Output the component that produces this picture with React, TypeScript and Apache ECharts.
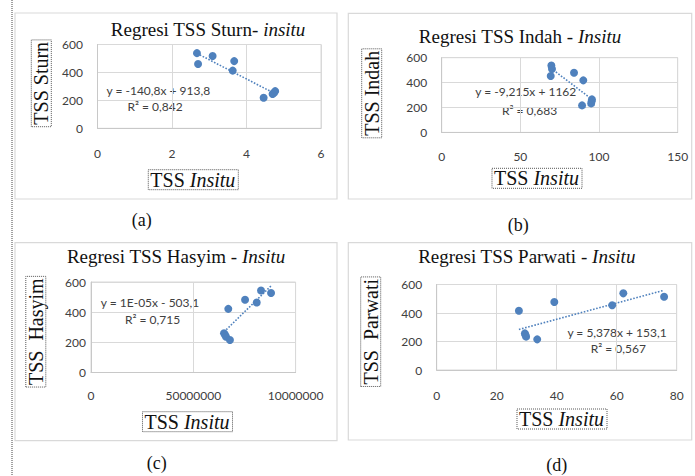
import React, { useEffect, useRef } from "react";
import * as echarts from "echarts";

// ---- data ----
const xSturn = [2.67, 3.09, 3.67, 2.7, 3.63, 4.77, 4.74, 4.7, 4.46];
const ySturn = [538, 518, 481, 460, 413, 266, 255, 245, 219];

const xIndah = [69.7, 70.1, 84.1, 69.3, 90.0, 95.5, 95.3, 95.0, 89.2];
const yIndah = [538, 509, 479, 453, 418, 265, 250, 233, 217];

const xHasyim = [83.1e6, 88.0e6, 75.3e6, 81.0e6, 67.1e6, 65.0e6, 65.5e6, 66.0e6, 67.9e6];
const yHasyim = [544, 527, 482, 464, 422, 260, 250, 237, 215];

const xParwati = [62.2, 75.8, 39.2, 58.5, 27.4, 29.4, 29.6, 29.8, 33.5];
const yParwati = [538, 514, 477, 454, 416, 257, 245, 234, 215];

const xTicksA = ["0", "2", "4", "6"];
const xTicksB = ["0", "50", "100", "150"];
const xTicksC = ["0", "50000000", "10000000"];
const xTicksD = ["0", "20", "40", "60", "80"];
const yTicks = ["0", "200", "400", "600"];

const titles = [
  "Regresi TSS Sturn- {i|insitu}",
  "Regresi TSS Indah - {i|Insitu}",
  "Regresi TSS Hasyim - {i|Insitu}",
  "Regresi TSS Parwati - {i|Insitu}",
];
const yNames = ["TSS Sturn", "TSS Indah", "TSS  Hasyim", "TSS  Parwati"];
const xName = "TSS {i|Insitu}";
const equations = ["y = -140,8x + 913,8", "y = -9,215x + 1162", "y = 1E-05x - 503,1", "y = 5,378x + 153,1"];
const r2Texts = ["R² = 0,842", "R² = 0,683", "R² = 0,715", "R² = 0,567"];
const captions = ["(a)", "(b)", "(c)", "(d)"];

const BLUE = "#4F81BD";
const SERIF = '"Liberation Serif", "Times New Roman", serif';
const SANS = 'Lato, "Open Sans", sans-serif';

function fitLine(xs: number[], ys: number[]) {
  const n = xs.length;
  const mx = xs.reduce((a, b) => a + b, 0) / n;
  const my = ys.reduce((a, b) => a + b, 0) / n;
  let sxy = 0, sxx = 0;
  for (let i = 0; i < n; i++) {
    sxy += (xs[i] - mx) * (ys[i] - my);
    sxx += (xs[i] - mx) * (xs[i] - mx);
  }
  const b = sxy / sxx;
  const a = my - b * mx;
  const x0 = Math.min(...xs);
  const x1 = Math.max(...xs);
  return [[x0, a + b * x0], [x1, a + b * x1]];
}

export default function App() {
  const ref = useRef<HTMLDivElement>(null);
  useEffect(() => {
    if (!ref.current) return;
    const chart = echarts.init(ref.current, null, { renderer: "svg" });

    const panels = [
      { xs: xSturn, ys: ySturn, max: 6, interval: 2, ticks: xTicksA,
        grid: { left: 97.5, top: 44.5, width: 223.5, height: 83.8 }, xm: 19.5, ym: 14.5 },
      { xs: xIndah, ys: yIndah, max: 150, interval: 50, ticks: xTicksB,
        grid: { left: 441.7, top: 57.7, width: 236, height: 74.7 }, xm: 18.5, ym: 14.5 },
      { xs: xHasyim, ys: yHasyim, max: 100000000, interval: 50000000, ticks: xTicksC,
        grid: { left: 91, top: 282, width: 204.6, height: 90.5 }, xm: 17, ym: 5 },
      { xs: xParwati, ys: yParwati, max: 80, interval: 20, ticks: xTicksD,
        grid: { left: 436.7, top: 284.5, width: 240, height: 85.5 }, xm: 19.5, ym: 14.5 },
    ];

    const labelStyle = { color: "#404040", fontFamily: SANS, fontSize: 12 };

    const grid = panels.map((p) => ({
      ...p.grid,
      show: true,
      borderColor: "#d9d9d9",
      borderWidth: 1,
      containLabel: false,
    }));
    const xAxis = panels.map((p, i) => ({
      type: "value",
      gridIndex: i,
      min: 0,
      max: p.max,
      interval: p.interval,
      axisLine: { show: true, lineStyle: { color: "#c8c8c8" } },
      axisTick: { show: false },
      splitLine: { show: true, lineStyle: { color: "#d9d9d9" } },
      axisLabel: { ...labelStyle, margin: p.xm, formatter: (_v: number, idx: number) => p.ticks[idx] ?? "" },
    }));
    const yAxis = panels.map((p, i) => ({
      type: "value",
      gridIndex: i,
      min: 0,
      max: 600,
      interval: 200,
      axisLine: { show: true, lineStyle: { color: "#c8c8c8" } },
      axisTick: { show: false },
      splitLine: { show: true, lineStyle: { color: "#d9d9d9" } },
      axisLabel: { ...labelStyle, margin: p.ym, formatter: (_v: number, idx: number) => yTicks[idx] ?? "" },
    }));

    const series: any[] = [];
    panels.forEach((p, i) => {
      series.push({
        type: "scatter",
        xAxisIndex: i,
        yAxisIndex: i,
        symbolSize: 8,
        itemStyle: { color: BLUE, opacity: 1 },
        data: p.xs.map((x, k) => [x, p.ys[k]]),
        z: 3,
      });
      series.push({
        type: "line",
        xAxisIndex: i,
        yAxisIndex: i,
        symbol: "none",
        lineStyle: { color: BLUE, type: "dotted", width: 1.6 },
        data: fitLine(p.xs, p.ys),
        z: 4,
      });
    });

    const panelRects = [
      { x: 15, y: 13, w: 322, h: 186 },
      { x: 348.3, y: 13.3, w: 343.4, h: 185.7 },
      { x: 15, y: 242.7, w: 322, h: 198 },
      { x: 348.3, y: 242.7, w: 343.4, h: 197.3 },
    ];
    const titlePos = [[208, 29], [520, 36.7], [176, 256.7], [526.7, 256.7]];
    const yNamePos = [[41.3, 83.3], [371.7, 93.3], [35.8, 331.7], [370.7, 331.7]];
    const xNamePos = [[193.3, 179.7], [537, 178.3], [187.5, 421.7], [562, 419]];
    const eqPos = [[158.3, 90.7], [525.8, 91.7], [150, 302.7], [617, 332.7]];
    const r2Pos = [[155, 106.7], [529.5, 110], [152.5, 319.3], [618.3, 348.3]];
    const capPos = [[141.7, 220], [518.3, 225], [156.7, 463.3], [556.7, 465]];

    const graphic: any[] = [
      {
        type: "line",
        shape: { x1: 12, y1: 0, x2: 12, y2: 476 },
        style: { stroke: "#444", lineWidth: 1, lineDash: [1, 1] },
        silent: true,
      },
    ];
    panelRects.forEach((r) => {
      graphic.push({
        type: "rect",
        shape: { x: r.x, y: r.y, width: r.w, height: r.h },
        style: { fill: "none", stroke: "#d9d9d9", lineWidth: 1.2 },
        silent: true,
        z: -1,
      });
    });
    for (let i = 0; i < 4; i++) {
      graphic.push({
        type: "text",
        x: titlePos[i][0],
        y: titlePos[i][1],
        style: {
          text: titles[i],
          fontFamily: SERIF,
          fontSize: 19,
          fill: "#111",
          align: "center",
          verticalAlign: "middle",
          rich: { i: { fontStyle: "italic", fontFamily: SERIF, fontSize: 19, fill: "#111" } },
        },
      });
      graphic.push({
        type: "text",
        x: yNamePos[i][0],
        y: yNamePos[i][1],
        rotation: Math.PI / 2,
        style: {
          text: yNames[i],
          fontFamily: SERIF,
          fontSize: 20,
          fill: "#111",
          align: "center",
          verticalAlign: "middle",
          borderColor: "#555",
          borderWidth: 1,
          borderDash: [1, 1],
          padding: [0, 2, 0, 2],
        },
      });
      graphic.push({
        type: "text",
        x: xNamePos[i][0],
        y: xNamePos[i][1],
        style: {
          text: xName,
          fontFamily: SERIF,
          fontSize: 20,
          fill: "#111",
          align: "center",
          verticalAlign: "middle",
          borderColor: "#555",
          borderWidth: 1,
          borderDash: [1, 1],
          padding: [0, 3, 0, 2],
          rich: { i: { fontStyle: "italic", fontFamily: SERIF, fontSize: 20, fill: "#111" } },
        },
      });
      graphic.push({
        type: "text",
        x: eqPos[i][0],
        y: eqPos[i][1],
        style: { text: equations[i], fontFamily: SANS, fontSize: 12, fill: "#404040", align: "center", verticalAlign: "middle" },
      });
      graphic.push({
        type: "text",
        x: r2Pos[i][0],
        y: r2Pos[i][1],
        style: { text: r2Texts[i], fontFamily: SANS, fontSize: 12, fill: "#404040", align: "center", verticalAlign: "middle" },
      });
      graphic.push({
        type: "text",
        x: capPos[i][0],
        y: capPos[i][1],
        style: { text: captions[i], fontFamily: SERIF, fontSize: 18, fill: "#111", align: "center", verticalAlign: "middle" },
      });
    }

    chart.setOption({
      animation: false,
      backgroundColor: "#ffffff",
      grid,
      xAxis,
      yAxis,
      series,
      graphic,
    });
    return () => chart.dispose();
  }, []);

  return (
    <div
      ref={ref}
      style={{ position: "fixed", left: 0, top: 0, width: 695, height: 476, background: "#fff" }}
    />
  );
}
